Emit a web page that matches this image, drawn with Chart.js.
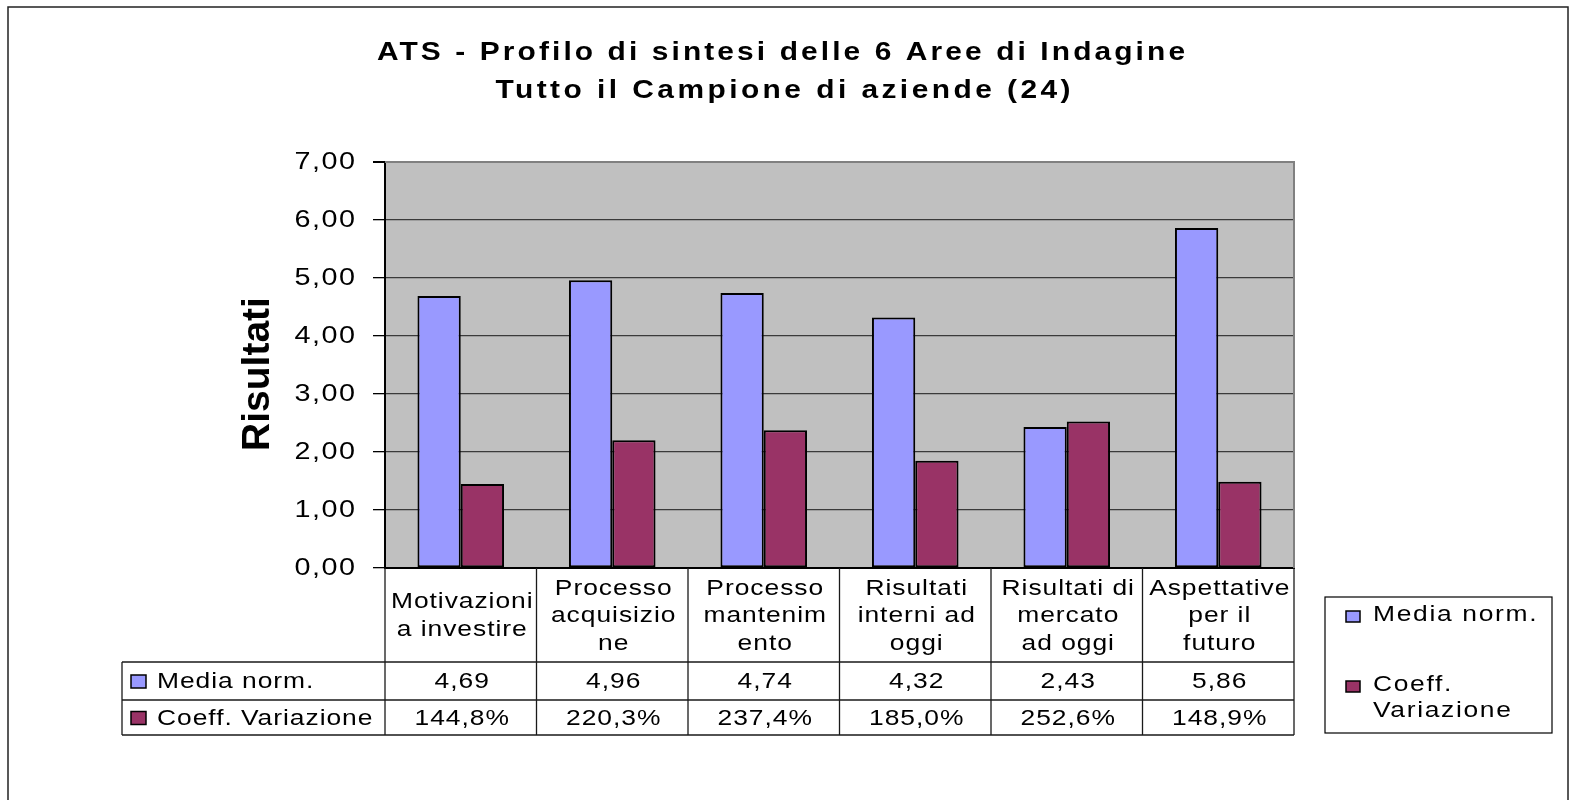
<!DOCTYPE html>
<html lang="it">
<head>
<meta charset="utf-8">
<title>ATS - Profilo di sintesi delle 6 Aree di Indagine</title>
<script src="https://cdn.jsdelivr.net/npm/chart.js@4.4.1/dist/chart.umd.min.js"></script>
<style>
  html, body { margin: 0; padding: 0; background: #ffffff; }
  #wrap { width: 1570px; height: 800px; }
</style>
</head>
<body>
<div id="wrap"><canvas id="c" width="1570" height="800"></canvas></div>
<script>
// Categories (wrapped the same way they appear in the data table)
const categoryLines = [
  ["Motivazioni", "a investire"],
  ["Processo", "acquisizio", "ne"],
  ["Processo", "mantenim", "ento"],
  ["Risultati", "interni ad", "oggi"],
  ["Risultati di", "mercato", "ad oggi"],
  ["Aspettative", "per il", "futuro"]
];
const categories = categoryLines.map(l => l.join(" "));

// Series
const seriesNames = ["Media norm.", "Coeff. Variazione"];
const mediaNorm = [4.69, 4.96, 4.74, 4.32, 2.43, 5.86];
const coeffVarPct = [144.8, 220.3, 237.4, 185.0, 252.6, 148.9];
const seriesColors = ["#9999FF", "#993366"];

// Axis
const yTickValues = [0, 1, 2, 3, 4, 5, 6, 7];
const yTitle = "Risultati";
const titleLines = ["ATS - Profilo di sintesi delle 6 Aree di Indagine", "Tutto il Campione di aziende (24)"];

const FONT = "'Liberation Sans', Arial, Helvetica, sans-serif";
const fmtNum = v => v.toFixed(2).replace(".", ",");
const fmtPct = v => v.toFixed(1).replace(".", ",") + "%";

// Text in the old spreadsheet style: slightly widened glyphs with loose tracking
function wideText(ctx, text, x, y, align, sx, ls) {
  ctx.save();
  ctx.translate(x, y);
  ctx.scale(sx, 1);
  ctx.letterSpacing = ls + "px";
  ctx.textAlign = align;
  let dx = 0;
  if (align === "center") dx = ls / 2;
  else if (align === "right") dx = ls;
  ctx.fillText(text, dx, 0);
  ctx.restore();
}

function wrapWords(ctx, text, maxW) {
  const words = text.split(" ");
  const lines = [];
  let cur = "";
  for (const w of words) {
    const t = cur ? cur + " " + w : w;
    if (cur && ctx.measureText(t).width > maxW) { lines.push(cur); cur = w; }
    else cur = t;
  }
  if (cur) lines.push(cur);
  return lines;
}

const excelFrame = {
  id: "excelFrame",
  beforeDraw(chart) {
    const { ctx, chartArea: a } = chart;
    ctx.save();
    ctx.fillStyle = "#C0C0C0";
    ctx.fillRect(a.left, a.top, a.right - a.left, a.bottom - a.top);
    ctx.restore();
  },
  afterDraw(chart) {
    const { ctx, chartArea: a } = chart;
    const xs = chart.scales.x;
    const ys = chart.scales.y;
    ctx.save();

    // plot area frame (top and right)
    ctx.strokeStyle = "#808080";
    ctx.lineWidth = 2;
    ctx.beginPath();
    ctx.moveTo(a.left, a.top);
    ctx.lineTo(a.right, a.top);
    ctx.lineTo(a.right, a.bottom);
    ctx.stroke();

    ctx.fillStyle = "#000";
    ctx.textBaseline = "middle";

    // y tick labels at the scale's tick positions
    ctx.font = "23px " + FONT;
    yTickValues.forEach(v => {
      wideText(ctx, fmtNum(v), 355, ys.getPixelForValue(v) + 1, "right", 1.25, 1.2);
    });

    // chart title
    ctx.font = "bold 26px " + FONT;
    wideText(ctx, titleLines[0], 781, 53, "center", 1.15, 2.7);
    wideText(ctx, titleLines[1], 783, 91, "center", 1.15, 3.0);

    // y axis title
    ctx.font = "bold 39px " + FONT;
    ctx.save();
    ctx.translate(258, 374);
    ctx.rotate(-Math.PI / 2);
    ctx.textAlign = "center";
    ctx.fillText(yTitle, 0, 0);
    ctx.restore();

    // data table
    const n = categories.length;
    const colW = xs.getPixelForValue(1) - xs.getPixelForValue(0);
    const edges = [];
    for (let i = 0; i <= n; i++) edges.push(xs.getPixelForValue(0) - colW / 2 + i * colW);
    const y0 = a.bottom, y1 = y0 + 94, y2 = y1 + 38, y3 = y2 + 35;
    const tLeft = 122;

    ctx.strokeStyle = "#1a1a1a";
    ctx.lineWidth = 1.3;
    ctx.beginPath();
    for (const e of edges) { ctx.moveTo(e, y0); ctx.lineTo(e, y3); }
    ctx.moveTo(tLeft, y1); ctx.lineTo(tLeft, y3);
    for (const y of [y1, y2, y3]) { ctx.moveTo(tLeft, y); ctx.lineTo(edges[n], y); }
    ctx.stroke();

    ctx.font = "22px " + FONT;
    ctx.fillStyle = "#000";
    const SX = 1.2, LS = 0.8;
    const lh = 27.5;
    const catMid = (y0 + y1) / 2;
    categoryLines.forEach((lines, i) => {
      const cx = xs.getPixelForValue(i) + 1;
      const start = catMid - (lines.length - 1) * lh / 2;
      lines.forEach((t, k) => wideText(ctx, t, cx, start + k * lh + 1, "center", SX, LS));
    });
    const rowMid = [(y1 + y2) / 2, (y2 + y3) / 2];
    mediaNorm.forEach((v, i) => wideText(ctx, fmtNum(v), xs.getPixelForValue(i) + 1, rowMid[0] + 1, "center", SX, LS));
    coeffVarPct.forEach((v, i) => wideText(ctx, fmtPct(v), xs.getPixelForValue(i) + 1, rowMid[1] + 1, "center", SX, LS));

    // series keys in the table
    seriesNames.forEach((name, s) => {
      const ym = rowMid[s];
      ctx.fillStyle = seriesColors[s];
      ctx.fillRect(131, ym - 6, 15, 13);
      ctx.strokeStyle = "#000";
      ctx.lineWidth = 1.5;
      ctx.strokeRect(131, ym - 6, 15, 13);
      ctx.fillStyle = "#000";
      wideText(ctx, name, 157, ym + 1, "left", SX, LS);
    });

    // legend box
    const L = { x: 1325, y: 597, w: 227, h: 136 };
    ctx.fillStyle = "#fff";
    ctx.fillRect(L.x, L.y, L.w, L.h);
    ctx.strokeStyle = "#000";
    ctx.lineWidth = 1.2;
    ctx.strokeRect(L.x, L.y, L.w, L.h);
    const legendTop = [615, 685];
    seriesNames.forEach((name, s) => {
      const lines = wrapWords(ctx, name, 140);
      const yk = legendTop[s];
      ctx.fillStyle = seriesColors[s];
      ctx.fillRect(1346, yk - 4, 14, 11);
      ctx.strokeStyle = "#000";
      ctx.lineWidth = 1.5;
      ctx.strokeRect(1346, yk - 4, 14, 11);
      ctx.fillStyle = "#000";
      lines.forEach((t, k) => wideText(ctx, t, 1373, yk + k * 25.5, "left", SX, 1.4));
    });

    // outer chart border
    ctx.strokeStyle = "#222";
    ctx.lineWidth = 1.5;
    ctx.strokeRect(8, 7, 1560, 820);
    ctx.restore();
  }
};

new Chart(document.getElementById("c"), {
  type: "bar",
  data: {
    labels: categories,
    datasets: [
      {
        label: seriesNames[0],
        data: mediaNorm,
        backgroundColor: seriesColors[0],
        borderColor: "#000",
        borderWidth: 2,
        borderSkipped: false
      },
      {
        label: seriesNames[1],
        data: coeffVarPct.map(v => v / 100),
        backgroundColor: seriesColors[1],
        borderColor: "#000",
        borderWidth: 2,
        borderSkipped: false
      }
    ]
  },
  options: {
    responsive: false,
    devicePixelRatio: 1,
    animation: false,
    layout: { padding: { left: 8, right: 276, top: 162, bottom: 232 } },
    datasets: { bar: { categoryPercentage: 2 / 3.5, barPercentage: 1 } },
    plugins: {
      legend: { display: false },
      title: { display: false },
      tooltip: { enabled: false }
    },
    scales: {
      x: {
        ticks: { display: false },
        grid: { display: false },
        border: { display: true, color: "#000", width: 2 },
        afterFit(scale) { scale.height = 0; }
      },
      y: {
        min: 0,
        max: 7,
        afterBuildTicks(scale) { scale.ticks = yTickValues.map(v => ({ value: v })); },
        ticks: { display: false },
        grid: {
          color: ctx => (ctx.tick && ctx.tick.value === 7 ? "#808080" : "#3a3a3a"),
          lineWidth: ctx => (ctx.tick && ctx.tick.value === 7 ? 2 : 1.3),
          tickColor: "#000",
          tickLength: 12,
          drawTicks: true
        },
        border: { display: true, color: "#000", width: 2 },
        afterFit(scale) { scale.width = 377; }
      }
    }
  },
  plugins: [excelFrame]
});
</script>
</body>
</html>
